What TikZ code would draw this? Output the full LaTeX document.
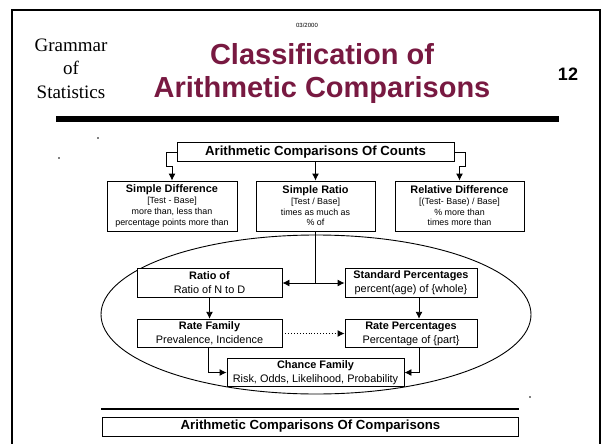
\documentclass[tikz,border=0pt]{standalone}
\usepackage{fontspec}
\setmainfont{Liberation Sans}
\newfontfamily\gramfont{Liberation Serif}
\usetikzlibrary{arrows,arrows.meta}
\usetikzlibrary{calc,shapes,shapes.geometric}
\usetikzlibrary{positioning}
\definecolor{maroon}{HTML}{781941}
\tikzset{>={Latex[length=7pt,width=7pt]}}
\newcommand{\boxtitle}[1]{{\fontsize{10.9}{12}\selectfont\bfseries #1}}
\tikzstyle{box} = [%
					draw, rectangle, fill=white,
					line width = 0.9pt,
					align = center, inner sep = 0pt]
\tikzstyle{countbox} = [%
					box,
					minimum width = 130pt, minimum height = 50pt,
					font = \fontsize{8.9}{10.7}\selectfont]
\tikzstyle{ratebox} = [%
					box,
					minimum height = 28.5pt,
					font = \fontsize{10.9}{14}\selectfont]
\tikzstyle{widebox} = [%
					box,
					minimum height = 19pt,
					font = \fontsize{13.2}{15}\selectfont\bfseries]
\tikzstyle{conn} = [line width = 0.9pt, ->]
\tikzstyle{link} = [line width = 0.9pt]
\tikzstyle{speck} = [circle, fill, inner sep = 0pt, minimum size = 1.6pt]

\begin{document}
\begin{tikzpicture}[x=1pt,y=-1pt]
	\useasboundingbox (0,0) rectangle (602,444);
	
	% Frame
	\draw[line width = 2pt] (12,445) -- (12,10) -- (600,10) -- (600,445);
	
	% Heading
	\node[font=\fontsize{6}{7}\selectfont] (date) at (307,25) {03/2000};
	\node[font=\gramfont\fontsize{19}{23.5}\selectfont, align=center] (gram) at (71,68.5) {Grammar\\of\\Statistics};
	\node[font=\fontsize{29}{33}\selectfont\bfseries, text=maroon, align=center] (title) at (322,73.5) {Classification of\\Arithmetic Comparisons};
	\node[font=\fontsize{18}{20}\selectfont\bfseries] (page) at (568,74) {12};
	\draw[line width = 5.5pt] (56,119) -- (559,119);
	
	% Specks
	\node[speck] (s1) at (98,138) {};
	\node[speck] (s2) at (59,158) {};
	\node[speck] (s3) at (530,397) {};
	
	% Ellipse
	\draw[link] (316,314.5) ellipse [x radius=215, y radius=79.5];
	
	% Nodes
	%% Counts
	\node[widebox, minimum width=277pt] (counts) at (315.5,152) {Arithmetic Comparisons Of Counts};
	\node[countbox] (sdiff) at (172,206) {\boxtitle{Simple Difference}\\{}[Test - Base]\\more than, less than\\percentage points more than};
	\node[countbox, minimum width=119pt] (sratio) at (315.5,206) {\boxtitle{Simple Ratio}\\{}[Test / Base]\\times as much as\\\% of};
	\node[countbox, minimum width=129pt] (rdiff) at (459.5,206) {\boxtitle{Relative Difference}\\{}[(Test- Base) / Base]\\\% more than\\times more than};
	%% Ratios
	\node[ratebox, minimum width=145pt] (ratio) at (209.5,283) {\textbf{Ratio of}\\Ratio of N to D};
	\node[ratebox, minimum width=132pt] (stdpct) at (411,283) {\textbf{Standard Percentages}\\percent(age) of \{whole\}};
	\node[ratebox, minimum width=145pt] (rate) at (209.5,333.5) {\textbf{Rate Family}\\Prevalence, Incidence};
	\node[ratebox, minimum width=132pt] (ratepct) at (411,333.5) {\textbf{Rate Percentages}\\Percentage of \{part\}};
	\node[ratebox, minimum width=177pt] (chance) at (315.5,372.5) {\textbf{Chance Family}\\Risk, Odds, Likelihood, Probability};
	%% Comparisons
	\draw[line width = 2.5pt] (101,409) -- (519,409);
	\node[widebox, minimum width=416pt] (comps) at (310.5,426.5) {Arithmetic Comparisons Of Comparisons};
	
	% Connectors
	\draw[conn] (counts.west) -| ++(-10,14) -| (sdiff.north);
	\draw[conn] (counts.east) -| ++(11,14) -| (rdiff.north);
	\draw[conn] (counts.south) -- (sratio.north);
	\draw[link] (sratio.south) -- (315.5,283) coordinate (split);
	\draw[conn] (split) -- (ratio.east);
	\draw[conn] (split) -- (stdpct.west);
	\draw[conn] (ratio.south) -- (rate.north);
	\draw[conn] ($(stdpct.south)+(8,0)$) -- ($(ratepct.north)+(8,0)$);
	\draw[conn, dotted] (rate.east) -- (ratepct.west);
	\draw[conn] ($(rate.south)+(-1.5,0)$) |- (chance.west);
	\draw[conn] ($(ratepct.south)+(8,0)$) |- (chance.east);
\end{tikzpicture}
\end{document}
